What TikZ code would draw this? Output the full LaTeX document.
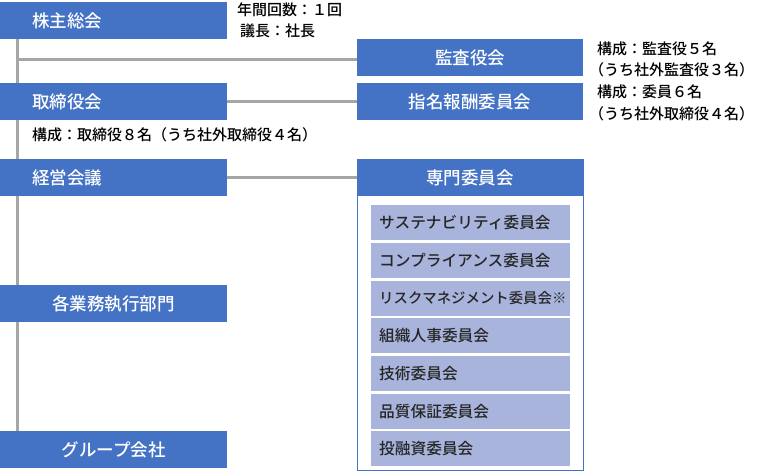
\documentclass[tikz,border=0pt]{standalone}
\usepackage{fontspec}
\setmainfont{Noto Sans CJK JP}[UprightFont=* Medium]
\usetikzlibrary{calc,backgrounds}
\definecolor{bbox}{HTML}{4472C4}
\definecolor{lline}{HTML}{A6A6A6}
\definecolor{ibox}{HTML}{A9B4DC}
\definecolor{itext}{HTML}{262626}
\begin{document}
\begin{tikzpicture}[x=1pt,y=-1pt,
  bluebox/.style={fill=bbox, text=white, inner sep=0pt, minimum height=37pt,
    minimum width=227pt, font=\fontsize{17.5}{20}\selectfont, anchor=north west},
  leftbox/.style={bluebox, text width=163pt, align=left, inner xsep=32pt},
  rightbox/.style={bluebox, minimum width=226pt},
  note/.style={font=\fontsize{15}{17}\selectfont, anchor=west, inner sep=0pt, text=black},
  itembox/.style={fill=ibox, text=itext, minimum width=199pt, minimum height=35pt,
    text width=183pt, inner xsep=8pt, inner ysep=0pt, align=left, anchor=north west,
    font=\fontsize{15.7}{17}\selectfont},
  link/.style={draw=lline, line width=3pt}]
\useasboundingbox (0,0) rectangle (770,475);
% left column
\node[leftbox] (kabu) at (0,2) {株主総会};
\node[leftbox] (tori) at (0,83) {取締役会};
\node[leftbox] (keiei) at (0,159) {経営会議};
\node[bluebox] (gyomu) at (0,285) {各業務執行部門};
\node[bluebox] (group) at (0,431) {グループ会社};
% right column
\node[rightbox] (kansa) at (357,39) {監査役会};
\node[rightbox] (shimei) at (357,83) {指名報酬委員会};
\node[draw=bbox, line width=1pt, minimum width=226pt, minimum height=311pt,
  anchor=north west, inner sep=0pt] (frame) at (357,159) {};
\node[rightbox] (senmon) at (357,159) {専門委員会};
\node[itembox] (i1) at (371,205) {サステナビリティ委員会};
\node[itembox] (i2) at (371,242.7) {コンプライアンス委員会};
\node[itembox, font=\fontsize{14.4}{17}\selectfont] (i3) at (371,280.4) {リスクマネジメント委員会※};
\node[itembox] (i4) at (371,318.1) {組織人事委員会};
\node[itembox] (i5) at (371,355.8) {技術委員会};
\node[itembox] (i6) at (371,393.5) {品質保証委員会};
\node[itembox] (i7) at (371,431) {投融資委員会};
% notes
\node[note] (n1) at (237,10) {年間回数：１回};
\node[note] (n2) at (240,31) {議長：社長};
\node[note] (n3) at (32,135) {構成：取締役８名（うち社外取締役４名）};
\node[note] (n4) at (597,49) {構成：監査役５名};
\node[note] (n5) at (589,70) {（うち社外監査役３名）};
\node[note] (n6) at (597,92) {構成：委員６名};
\node[note] (n7) at (589,114) {（うち社外取締役４名）};
% connectors
\coordinate (tTop) at ($(kabu.south west)+(17,0)$);
\coordinate (tBot) at ($(group.north west)+(17,0)$);
\coordinate (kIn) at ($(kansa.west)+(0,2)$);
\begin{scope}[on background layer]
\draw[link] (tTop) -- (tBot);
\draw[link] (kIn) -- (kIn -| tTop);
\draw[link] (tori.east) -- (shimei.west);
\draw[link] (keiei.east) -- (senmon.west);
\end{scope}
\end{tikzpicture}
\end{document}
